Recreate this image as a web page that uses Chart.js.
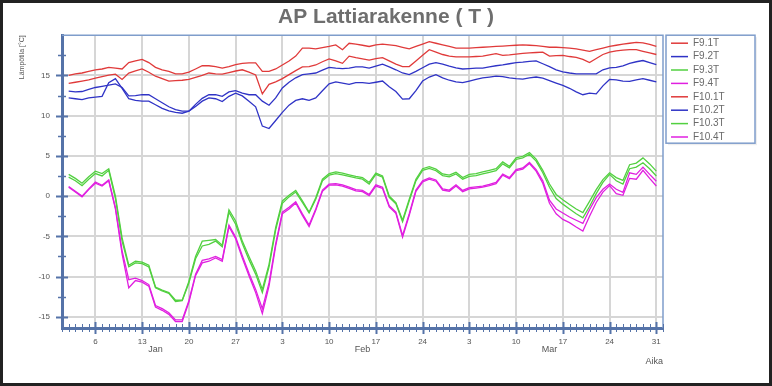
<!DOCTYPE html>
<html>
<head>
<meta charset="utf-8">
<title>AP Lattiarakenne ( T )</title>
<script src="https://cdn.jsdelivr.net/npm/chart.js@4.4.0/dist/chart.umd.min.js"></script>
<style>
  html, body { margin: 0; padding: 0; background: #fff; }
  #wrap { width: 772px; height: 386px; }
</style>
</head>
<body>
<div id="wrap"><canvas id="tempChart" width="772" height="386"></canvas></div>
<script>
// Daily readings, day number counted from 1 Jan (first reading on day 2)
const firstDay = 2;

const f91 = [15.0, 15.2, 15.3, 15.5, 15.7, 15.8, 16.0, 15.9, 15.8, 16.6,
  16.8, 17.0, 16.6, 16.0, 15.7, 15.5, 15.2, 15.2, 15.4, 15.8,
  16.2, 16.2, 16.1, 15.9, 16.1, 16.35, 16.5, 16.55, 16.55, 15.5,
  15.5, 15.8, 16.3, 16.8, 17.4, 18.4, 18.4, 18.3, 18.45, 18.6,
  18.8, 18.2, 19.0, 18.9, 18.75, 18.6, 18.8, 18.9, 18.8, 18.7,
  18.5, 18.3, 18.6, 18.9, 19.2, 19.0, 18.8, 18.6, 18.4, 18.4,
  18.4, 18.45, 18.5, 18.55, 18.6, 18.65, 18.7, 18.75, 18.8, 18.75,
  18.7, 18.6, 18.5, 18.5, 18.45, 18.4, 18.3, 18.15, 18.0, 18.2,
  18.4, 18.6, 18.75, 18.9, 19.0, 19.1, 19.05, 18.85, 18.6];

const f92 = [13.05, 12.95, 13.0, 13.25, 13.5, 13.65, 13.8, 13.95, 13.5, 12.45,
  12.5, 12.6, 12.6, 12.1, 11.6, 11.1, 10.75, 10.55, 10.55, 11.4,
  12.15, 12.6, 12.6, 12.4, 12.95, 13.1, 12.8, 12.6, 12.6, 11.8,
  11.3, 12.2, 13.45, 14.15, 14.7, 15.1, 15.2, 15.3, 15.65, 16.0,
  15.9, 15.85, 15.9, 16.05, 16.05, 15.9, 16.15, 16.4, 16.05, 15.7,
  15.3, 15.1, 15.5, 15.95, 16.4, 16.6, 16.4, 16.15, 15.95, 15.8,
  15.85, 15.9, 15.9, 16.05, 16.2, 16.3, 16.45, 16.6, 16.65, 16.75,
  16.8, 16.45, 16.1, 15.7, 15.45, 15.3, 15.2, 15.2, 15.2, 15.2,
  15.7, 15.95, 16.0, 16.2, 16.5, 16.7, 16.85, 16.6, 16.35];

const f93 = [2.7, 2.2, 1.6, 2.4, 3.1, 2.8, 3.4, 0.0, -5.2, -8.6,
  -8.1, -8.2, -8.6, -11.3, -11.7, -12.0, -12.95, -12.95, -10.6, -7.5,
  -5.6, -5.5, -5.4, -6.1, -1.7, -3.1, -5.6, -7.5, -9.3, -11.6,
  -8.5, -3.9, -0.6, 0.1, 0.7, -0.6, -2.0, -0.2, 2.1, 2.8,
  3.0, 2.85, 2.65, 2.45, 2.3, 1.7, 2.85, 2.5, 0.0, -0.8,
  -3.0, -0.4, 2.1, 3.4, 3.65, 3.35, 2.75, 2.6, 2.95, 2.3,
  2.7, 2.8, 3.0, 3.2, 3.4, 4.25, 3.7, 4.75, 4.95, 5.4,
  4.6, 3.2, 1.5, 0.2, -0.45, -1.05, -1.6, -2.05, -0.65, 0.8,
  2.05, 2.9, 2.3, 1.95, 3.9, 4.1, 4.75, 4.0, 3.1];

const f94 = [1.2, 0.6, 0.0, 0.9, 1.75, 1.35, 2.0, -1.45, -6.8, -10.4,
  -10.2, -10.5, -11.0, -13.6, -14.0, -14.5, -15.4, -15.4, -13.0, -9.7,
  -8.0, -7.8, -7.5, -7.9, -3.6, -5.1, -7.4, -9.6, -11.6, -14.0,
  -10.8, -5.9, -2.0, -1.4, -0.7, -2.2, -3.6, -1.6, 0.75, 1.5,
  1.55, 1.4, 1.1, 0.8, 0.7, 0.2, 1.4, 1.1, -1.2, -2.0,
  -4.9, -2.2, 0.75, 1.9, 2.25, 2.0, 0.9, 0.75, 1.4, 0.7,
  1.05, 1.15, 1.25, 1.45, 1.7, 2.75, 2.3, 3.3, 3.5, 4.2,
  3.3, 1.9, -0.5, -1.6, -2.1, -2.6, -3.0, -3.4, -1.7, -0.2,
  0.85, 1.5, 0.85, 0.45, 2.9, 2.7, 3.6, 2.7, 1.85];

const f101 = [14.0, 14.15, 14.3, 14.45, 14.65, 14.85, 15.05, 15.15, 14.5, 15.3,
  15.55, 15.8, 15.4, 14.9, 14.6, 14.3, 14.35, 14.4, 14.5, 14.75,
  15.0, 15.3, 15.2, 15.15, 15.35, 15.55, 15.7, 15.4, 15.05, 12.7,
  13.9, 14.2, 14.6, 15.1, 15.6, 16.05, 16.1, 16.3, 16.7, 17.05,
  16.8, 16.5, 17.4, 17.2, 17.05, 16.9, 17.1, 17.2, 16.8, 16.4,
  16.1, 16.1, 16.8, 17.5, 18.2, 17.9, 17.6, 17.4, 17.3, 17.3,
  17.3, 17.35, 17.4, 17.55, 17.7, 17.5, 17.55, 17.65, 17.75, 17.8,
  17.85, 17.9, 17.4, 17.45, 17.5, 17.35, 17.25, 17.0, 16.6, 17.1,
  17.6, 17.9, 18.05, 18.15, 18.2, 18.2, 18.0, 17.8, 17.6];

const f102 = [12.2, 12.1, 12.0, 12.2, 12.3, 12.4, 14.1, 14.6, 13.4, 12.1,
  11.9, 11.8, 11.8, 11.35, 10.9, 10.6, 10.4, 10.3, 10.55, 11.15,
  11.8, 12.2, 12.1, 11.75, 12.4, 12.8, 12.45, 11.8, 11.1, 8.7,
  8.4, 9.4, 10.4, 11.3, 11.9, 12.1, 11.9, 12.2, 13.1, 13.95,
  14.2, 14.05, 13.9, 14.1, 14.1, 14.0, 14.15, 14.3, 13.6, 13.0,
  12.05, 12.1, 13.1, 14.3, 14.8, 15.1, 14.7, 14.4, 14.2, 14.1,
  14.3, 14.5, 14.7, 14.8, 14.9, 14.85, 14.7, 14.6, 14.55, 14.7,
  14.8, 14.65, 14.35, 14.05, 13.75, 13.4, 12.95, 12.6, 12.8, 12.7,
  13.7, 14.5, 14.45, 14.3, 14.25, 14.45, 14.6, 14.4, 14.2];

const f103 = [2.35, 1.9, 1.3, 2.1, 2.8, 2.5, 3.2, -0.3, -5.6, -8.8,
  -8.3, -8.4, -8.8, -11.4, -11.8, -12.1, -13.1, -13.0, -10.8, -7.8,
  -6.2, -6.0, -5.6, -6.3, -2.0, -3.5, -5.9, -7.9, -9.7, -12.0,
  -8.8, -4.2, -0.9, -0.1, 0.5, -0.8, -2.1, -0.4, 1.9, 2.6,
  2.8, 2.65, 2.45, 2.25, 2.1, 1.5, 2.7, 2.35, -0.15, -0.95,
  -3.2, -0.6, 1.9, 3.2, 3.45, 3.15, 2.55, 2.4, 2.75, 2.1,
  2.45, 2.55, 2.75, 2.95, 3.15, 4.0, 3.5, 4.55, 4.75, 5.2,
  4.35, 2.9, 1.1, -0.3, -1.0, -1.6, -2.2, -2.7, -1.3, 0.3,
  1.7, 2.7, 1.9, 1.5, 3.4, 3.6, 4.15, 3.4, 2.5];

const f104 = [1.1, 0.5, -0.1, 0.8, 1.6, 1.25, 1.9, -1.6, -7.2, -11.4,
  -10.5, -10.7, -11.2, -13.8, -14.2, -14.7, -15.6, -15.6, -13.2, -9.9,
  -8.3, -8.1, -7.7, -8.1, -3.8, -5.3, -7.7, -9.9, -12.0, -14.6,
  -11.2, -6.2, -2.2, -1.6, -0.85, -2.4, -3.8, -1.75, 0.6, 1.35,
  1.4, 1.25, 0.95, 0.65, 0.55, 0.05, 1.25, 0.95, -1.35, -2.15,
  -5.1, -2.4, 0.6, 1.75, 2.1, 1.85, 0.75, 0.6, 1.25, 0.55,
  0.9, 1.0, 1.1, 1.3, 1.55, 2.6, 2.15, 3.15, 3.35, 4.05,
  3.1, 1.6, -0.9, -2.2, -2.9, -3.3, -3.85, -4.35, -2.5, -0.8,
  0.5, 1.3, 0.3, 0.1, 2.2, 2.1, 3.2, 2.2, 1.25];

// Axis ticks
const xTickDays = [6, 13, 20, 27, 34, 41, 48, 55, 62, 69, 76, 83, 90];
const xTickLabels = ['6', '13', '20', '27', '3', '10', '17', '24', '3', '10', '17', '24', '31'];
const monthNames = ['Jan', 'Feb', 'Mar'];
const monthMidDays = [15, 46, 74];
const yTicks = [-15, -10, -5, 0, 5, 10, 15];

const RED = '#e03a3a';
const BLUE = '#2f33c6';
const GREEN = '#52d040';
const MAGENTA = '#e020e0';
const AXIS = '#5573a8';
const FRAME = '#7f9dcb';
const GRID = '#d6d6d6';
const TEXT = '#555555';
const FONT = "'Liberation Sans', Arial, sans-serif";

const days = f91.map((v, i) => firstDay + i);

function series(label, values, color) {
    return {
        label: label,
        data: values,
        borderColor: color,
        backgroundColor: color,
        borderWidth: 1.3,
        pointRadius: 0,
        tension: 0,
        fill: false
    };
}

// white page + outer frame
const pageFrame = {
    id: 'pageFrame',
    beforeDraw(chart) {
        const ctx = chart.ctx;
        ctx.save();
        ctx.fillStyle = '#ffffff';
        ctx.fillRect(0, 0, chart.width, chart.height);
        ctx.restore();
    },
    afterDraw(chart) {
        const ctx = chart.ctx;
        ctx.save();
        ctx.strokeStyle = '#222222';
        ctx.lineWidth = 3;
        ctx.strokeRect(1.5, 1.5, chart.width - 3, chart.height - 3);
        ctx.restore();
    }
};

// crossing tick marks, plot frame, month names
const axisDecor = {
    id: 'axisDecor',
    afterDatasetsDraw(chart) {
        const ctx = chart.ctx;
        const area = chart.chartArea;
        const xs = chart.scales.x;
        const ys = chart.scales.y;
        ctx.save();

        // top and right frame
        ctx.strokeStyle = FRAME;
        ctx.lineWidth = 1.5;
        ctx.beginPath();
        ctx.moveTo(area.left, area.top);
        ctx.lineTo(area.right, area.top);
        ctx.lineTo(area.right, area.bottom);
        ctx.stroke();

        ctx.strokeStyle = AXIS;
        // daily ticks on x axis
        for (let d = Math.ceil(xs.min); d <= xs.max; d++) {
            const px = Math.round(xs.getPixelForValue(d)) + 0.5;
            const major = xTickDays.includes(d);
            const len = major ? 6 : 4;
            ctx.lineWidth = major ? 2 : 1;
            ctx.beginPath();
            ctx.moveTo(px, area.bottom - len);
            ctx.lineTo(px, area.bottom + len);
            ctx.stroke();
        }
        // half step ticks on y axis
        for (let v = -15; v <= 17.5; v += 2.5) {
            const py = Math.round(ys.getPixelForValue(v)) + 0.5;
            const major = v % 5 === 0;
            const len = major ? 6 : 4;
            ctx.lineWidth = major ? 2 : 1.5;
            ctx.beginPath();
            ctx.moveTo(area.left - len, py);
            ctx.lineTo(area.left + len, py);
            ctx.stroke();
        }

        // month names under the day labels
        ctx.fillStyle = TEXT;
        ctx.font = '9px ' + FONT;
        ctx.textAlign = 'center';
        ctx.textBaseline = 'middle';
        monthNames.forEach((m, i) => {
            ctx.fillText(m, xs.getPixelForValue(monthMidDays[i]), 350);
        });
        ctx.restore();
    }
};

// boxed legend to the right of the plot
const boxLegend = {
    id: 'boxLegend',
    afterDraw(chart) {
        const ctx = chart.ctx;
        const area = chart.chartArea;
        const x = area.right + 3;
        const y = area.top;
        const w = 89;
        const h = 108;
        ctx.save();
        ctx.fillStyle = '#eeeeee';
        ctx.fillRect(x + 2, y + 2, w, h);
        ctx.fillStyle = '#ffffff';
        ctx.fillRect(x, y, w, h);
        ctx.strokeStyle = FRAME;
        ctx.lineWidth = 1.5;
        ctx.strokeRect(x, y, w, h);

        ctx.font = '10px ' + FONT;
        ctx.textAlign = 'left';
        ctx.textBaseline = 'middle';
        chart.data.datasets.forEach((ds, i) => {
            const ly = y + 8 + i * 13.4;
            ctx.strokeStyle = ds.borderColor;
            ctx.lineWidth = 1.5;
            ctx.beginPath();
            ctx.moveTo(x + 5, ly);
            ctx.lineTo(x + 22, ly);
            ctx.stroke();
            ctx.fillStyle = '#6a6a6a';
            ctx.fillText(ds.label, x + 27, ly);
        });
        ctx.restore();
    }
};

new Chart(document.getElementById('tempChart'), {
    type: 'line',
    data: {
        labels: days,
        datasets: [
            series('F9.1T', f91, RED),
            series('F9.2T', f92, BLUE),
            series('F9.3T', f93, GREEN),
            series('F9.4T', f94, MAGENTA),
            series('F10.1T', f101, RED),
            series('F10.2T', f102, BLUE),
            series('F10.3T', f103, GREEN),
            series('F10.4T', f104, MAGENTA)
        ]
    },
    options: {
        responsive: false,
        animation: false,
        devicePixelRatio: 1,
        layout: {
            padding: { left: 2, right: 2, top: 1, bottom: 2 }
        },
        plugins: {
            legend: { display: false },
            tooltip: { enabled: false },
            title: {
                display: true,
                text: 'AP Lattiarakenne ( T )',
                color: '#6e6e6e',
                font: { family: FONT, size: 21, weight: 'bold' },
                padding: { top: 4, bottom: 5 }
            }
        },
        scales: {
            x: {
                type: 'linear',
                min: 1,
                max: 91,
                afterBuildTicks: function(scale) {
                    scale.ticks = xTickDays.map(v => ({ value: v }));
                },
                afterFit: function(scale) {
                    scale.height = 56;
                },
                grid: {
                    color: GRID,
                    lineWidth: 2,
                    drawTicks: false
                },
                border: { color: AXIS, width: 3 },
                ticks: {
                    autoSkip: false,
                    maxRotation: 0,
                    padding: 9,
                    color: TEXT,
                    font: { family: FONT, size: 8 },
                    callback: function(value) {
                        const i = xTickDays.indexOf(value);
                        return i >= 0 ? xTickLabels[i] : '';
                    }
                },
                title: {
                    display: true,
                    text: 'Aika',
                    align: 'end',
                    color: TEXT,
                    font: { family: FONT, size: 9 },
                    padding: { top: 0, bottom: 17 }
                }
            },
            y: {
                type: 'linear',
                position: 'left',
                min: -16.4,
                max: 20,
                afterBuildTicks: function(scale) {
                    scale.ticks = yTicks.map(v => ({ value: v }));
                },
                afterFit: function(scale) {
                    scale.width = 60;
                },
                grid: {
                    color: GRID,
                    lineWidth: 2,
                    drawTicks: false
                },
                border: { color: AXIS, width: 3 },
                ticks: {
                    padding: 12,
                    color: TEXT,
                    font: { family: FONT, size: 8 }
                },
                title: {
                    display: true,
                    text: 'Lämpötila [°C]',
                    align: 'end',
                    color: TEXT,
                    font: { family: FONT, size: 7 },
                    padding: { top: 16, bottom: 0 }
                }
            },
            // keeps room for the boxed legend
            legendRoom: {
                type: 'linear',
                position: 'right',
                grid: { display: false, drawTicks: false },
                border: { display: false },
                ticks: { display: false },
                afterFit: function(scale) {
                    scale.width = 107;
                }
            }
        }
    },
    plugins: [pageFrame, axisDecor, boxLegend]
});
</script>
</body>
</html>
